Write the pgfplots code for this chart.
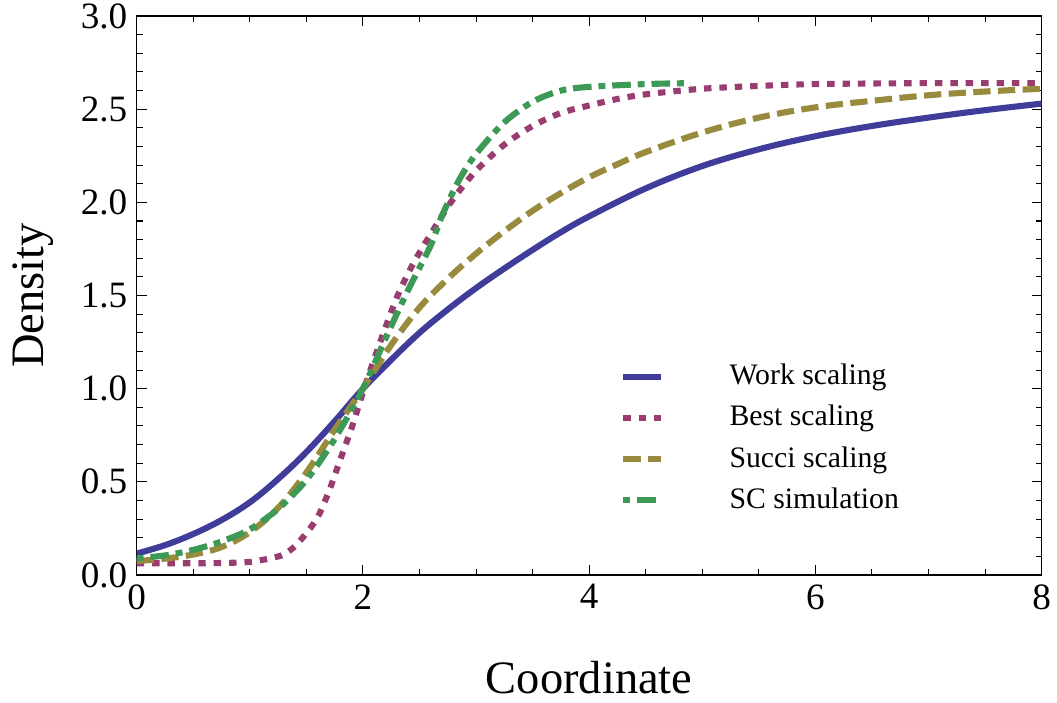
\documentclass[border=0pt]{standalone}
\usepackage{pgfplots}
\pgfplotsset{compat=1.18}
\usepackage{fontspec}
\setmainfont{Liberation Serif}

\definecolor{mmaBlue}{RGB}{63,61,153}
\definecolor{mmaRed}{RGB}{153,61,113}
\definecolor{mmaGold}{RGB}{153,139,61}
\definecolor{mmaGreen}{RGB}{61,153,86}

\begin{document}
\begin{tikzpicture}[x=0.3766pt,y=0.3766pt]
% page frame, in reference pixels, axis origin at (0,0)
\path[use as bounding box] (-136.7,-127) rectangle (920.3,575);
\begin{axis}[
    scale only axis,
    width=340.8pt, height=210.5pt,
    xmin=0, xmax=8, ymin=0, ymax=3,
    xtick={0,2,4,6,8},
    ytick={0,0.5,1,1.5,2,2.5,3},
    minor x tick num=3,
    minor y tick num=4,
    tick align=inside,
    major tick length=3.8pt,
    minor tick length=2.3pt,
    every tick/.style={black, line width=0.4pt},
    axis line style={line width=0.5pt},
    /pgf/number format/assume math mode=true,
    yticklabel style={/pgf/number format/.cd, fixed, fixed zerofill, precision=1},
    tick label style={font=\fontsize{14}{16}\selectfont},
    label style={font=\fontsize{17.5}{20}\selectfont},
    xlabel={Coordinate},
    ylabel={Density},
    xlabel style={at={(axis description cs:0.5,-0.2125)}, anchor=base},
    ylabel style={at={(axis description cs:-0.1035,0.5)}, anchor=base},
    legend image code/.code={
        \draw[#1] (0pt,0pt) -- (14pt,0pt);
        \path[draw=none] (0pt,0pt) -- (38pt,0pt);
    },
    legend cell align=left,
    legend style={draw=none, fill=none, at={(rel axis cs:0.525,0.397)},
        anchor=north west, font=\fontsize{11.2}{13}\selectfont, row sep=2.2pt},
    every axis plot/.append style={line width=2.3pt},
]

\addplot[mmaBlue, smooth, tension=0.6] coordinates {
  (0,0.115) (0.25,0.16) (0.5,0.22) (0.75,0.295) (1.0,0.39) (1.25,0.515)
  (1.5,0.66) (1.75,0.825) (2.0,1.00) (2.25,1.155) (2.5,1.30) (2.75,1.425)
  (3.0,1.54) (3.25,1.645) (3.5,1.745) (3.75,1.84) (4.0,1.925) (4.5,2.075)
  (5.0,2.195) (5.5,2.285) (6.0,2.355) (6.5,2.41) (7.0,2.455) (7.5,2.495) (8.0,2.53)
};
\addlegendentry{Work scaling}

\addplot[mmaRed, smooth, tension=0.5, dash pattern=on 2.8pt off 3pt] coordinates {
  (0,0.063) (0.5,0.063) (0.8,0.065) (1.0,0.07) (1.1,0.08) (1.2,0.092)
  (1.3,0.11) (1.4,0.155) (1.5,0.225) (1.6,0.31) (1.7,0.45) (1.8,0.62)
  (1.9,0.79) (2.0,0.98) (2.1,1.16) (2.2,1.33) (2.3,1.49) (2.4,1.62)
  (2.5,1.73) (2.65,1.88) (2.8,2.02) (3.0,2.17) (3.25,2.31) (3.5,2.41)
  (3.75,2.48) (4.0,2.52) (4.25,2.555) (4.5,2.58) (5.0,2.61) (5.5,2.625)
  (6.0,2.635) (7.0,2.64) (8.0,2.64)
};
\addlegendentry{Best scaling}

\addplot[mmaGold, smooth, tension=0.6, dash pattern=on 6.5pt off 2.8pt] coordinates {
  (0,0.075) (0.25,0.088) (0.5,0.11) (0.75,0.15) (1.0,0.23) (1.25,0.36)
  (1.5,0.55) (1.75,0.78) (2.0,1.00) (2.25,1.235) (2.5,1.435) (2.75,1.59)
  (3.0,1.725) (3.25,1.845) (3.5,1.955) (3.75,2.05) (4.0,2.135) (4.25,2.205)
  (4.5,2.27) (5.0,2.375) (5.5,2.455) (6.0,2.51) (6.5,2.545) (7.0,2.575)
  (7.5,2.595) (8.0,2.61)
};
\addlegendentry{Succi scaling}

\addplot[mmaGreen, smooth, tension=0.5, dash pattern=on 2.6pt off 2.6pt on 7pt off 2.6pt] coordinates {
  (0,0.09) (0.25,0.105) (0.5,0.135) (0.75,0.18) (1.0,0.245) (1.25,0.355)
  (1.5,0.51) (1.75,0.73) (2.0,1.00) (2.2,1.27) (2.4,1.53) (2.6,1.77)
  (2.7,1.93) (2.85,2.12) (3.0,2.26) (3.25,2.43) (3.5,2.54) (3.75,2.60)
  (4.0,2.62) (4.5,2.635) (4.9,2.64)
};
\addlegendentry{SC simulation}
\end{axis}
\end{tikzpicture}
\end{document}
